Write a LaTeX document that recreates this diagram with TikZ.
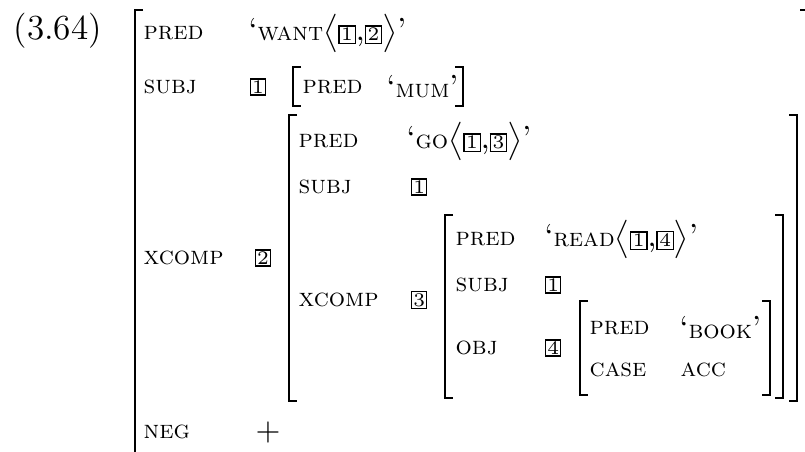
\documentclass[tikz,border=0pt]{standalone}
\usetikzlibrary{positioning}

\newcommand{\idx}[1]{{\setlength{\fboxsep}{0.5pt}\setlength{\fboxrule}{0.4pt}\fbox{\fontsize{6}{7}\selectfont #1}}}
\newcommand{\sm}[1]{{\footnotesize\scshape #1}}
\tikzset{
  attr/.style={anchor=west, inner sep=0pt, font=\footnotesize\scshape},
  val/.style={anchor=west, inner sep=0pt},
  tagbox/.style={anchor=west, draw, inner sep=0.5pt, line width=0.4pt, font=\fontsize{6}{7}\selectfont},
  brk/.style={line width=0.6pt},
}

\begin{document}
\begin{tikzpicture}[x=0.3125pt, y=-0.3125pt]
    \useasboundingbox (0,0) rectangle (805,452);
    \node[val, font=\fontsize{11}{13}\selectfont] (exno) at (13,31) {(3.64)};

    % outer f-structure
    \draw[brk] (143,10) -- (135,10) -- (135,470);
    \draw[brk] (800,10) -- (806,10);
    \node[attr] (pred0) at (143,33) {pred};
    \node[val] (want) at (248,33) {`\sm{want}$\big\langle$\idx{1},\idx{2}$\big\rangle$'};
    \node[attr] (subj0) at (143,87) {subj};
    \node[tagbox] (tagA) at (250,87) {1};
    \draw[brk] (301,67) -- (293,67) -- (293,106) -- (301,106);
    \node[attr] (predM) at (302,87) {pred};
    \node[val] (mum) at (386,87) {`\sm{mum}'};
    \draw[brk] (455,67) -- (463,67) -- (463,106) -- (455,106);
    \node[attr] (xcomp0) at (143,258) {xcomp};
    \node[tagbox] (tagB) at (255,258) {2};
    \node[attr] (neg) at (143,432) {neg};
    \node[val] (plus) at (255,432) {$+$};

    % GO
    \draw[brk] (297,115) -- (289,115) -- (289,401) -- (297,401);
    \draw[brk] (789,115) -- (797,115) -- (797,401) -- (789,401);
    \node[attr] (predG) at (298,141) {pred};
    \node[val] (go) at (406,141) {`\sm{go}$\big\langle$\idx{1},\idx{3}$\big\rangle$'};
    \node[attr] (subjG) at (298,187) {subj};
    \node[tagbox] (tagC) at (411,187) {1};
    \node[attr] (xcompG) at (298,300) {xcomp};
    \node[tagbox] (tagD) at (411,300) {3};

    % READ
    \draw[brk] (453,215) -- (445,215) -- (445,398) -- (453,398);
    \draw[brk] (775,215) -- (783,215) -- (783,398) -- (775,398);
    \node[attr] (predR) at (455,239) {pred};
    \node[val] (read) at (544,239) {`\sm{read}$\big\langle$\idx{1},\idx{4}$\big\rangle$'};
    \node[attr] (subjR) at (455,285) {subj};
    \node[tagbox] (tagE) at (545,285) {1};
    \node[attr] (objR) at (455,348) {obj};
    \node[tagbox] (tagF) at (545,348) {4};

    % BOOK
    \draw[brk] (588,301) -- (580,301) -- (580,395) -- (588,395);
    \draw[brk] (762,301) -- (770,301) -- (770,395) -- (762,395);
    \node[attr] (predB) at (589,328) {pred};
    \node[val] (book) at (679,328) {`\sm{book}'};
    \node[attr] (caseB) at (589,370) {case};
    \node[attr] (acc) at (680,370) {acc};
\end{tikzpicture}
\end{document}
